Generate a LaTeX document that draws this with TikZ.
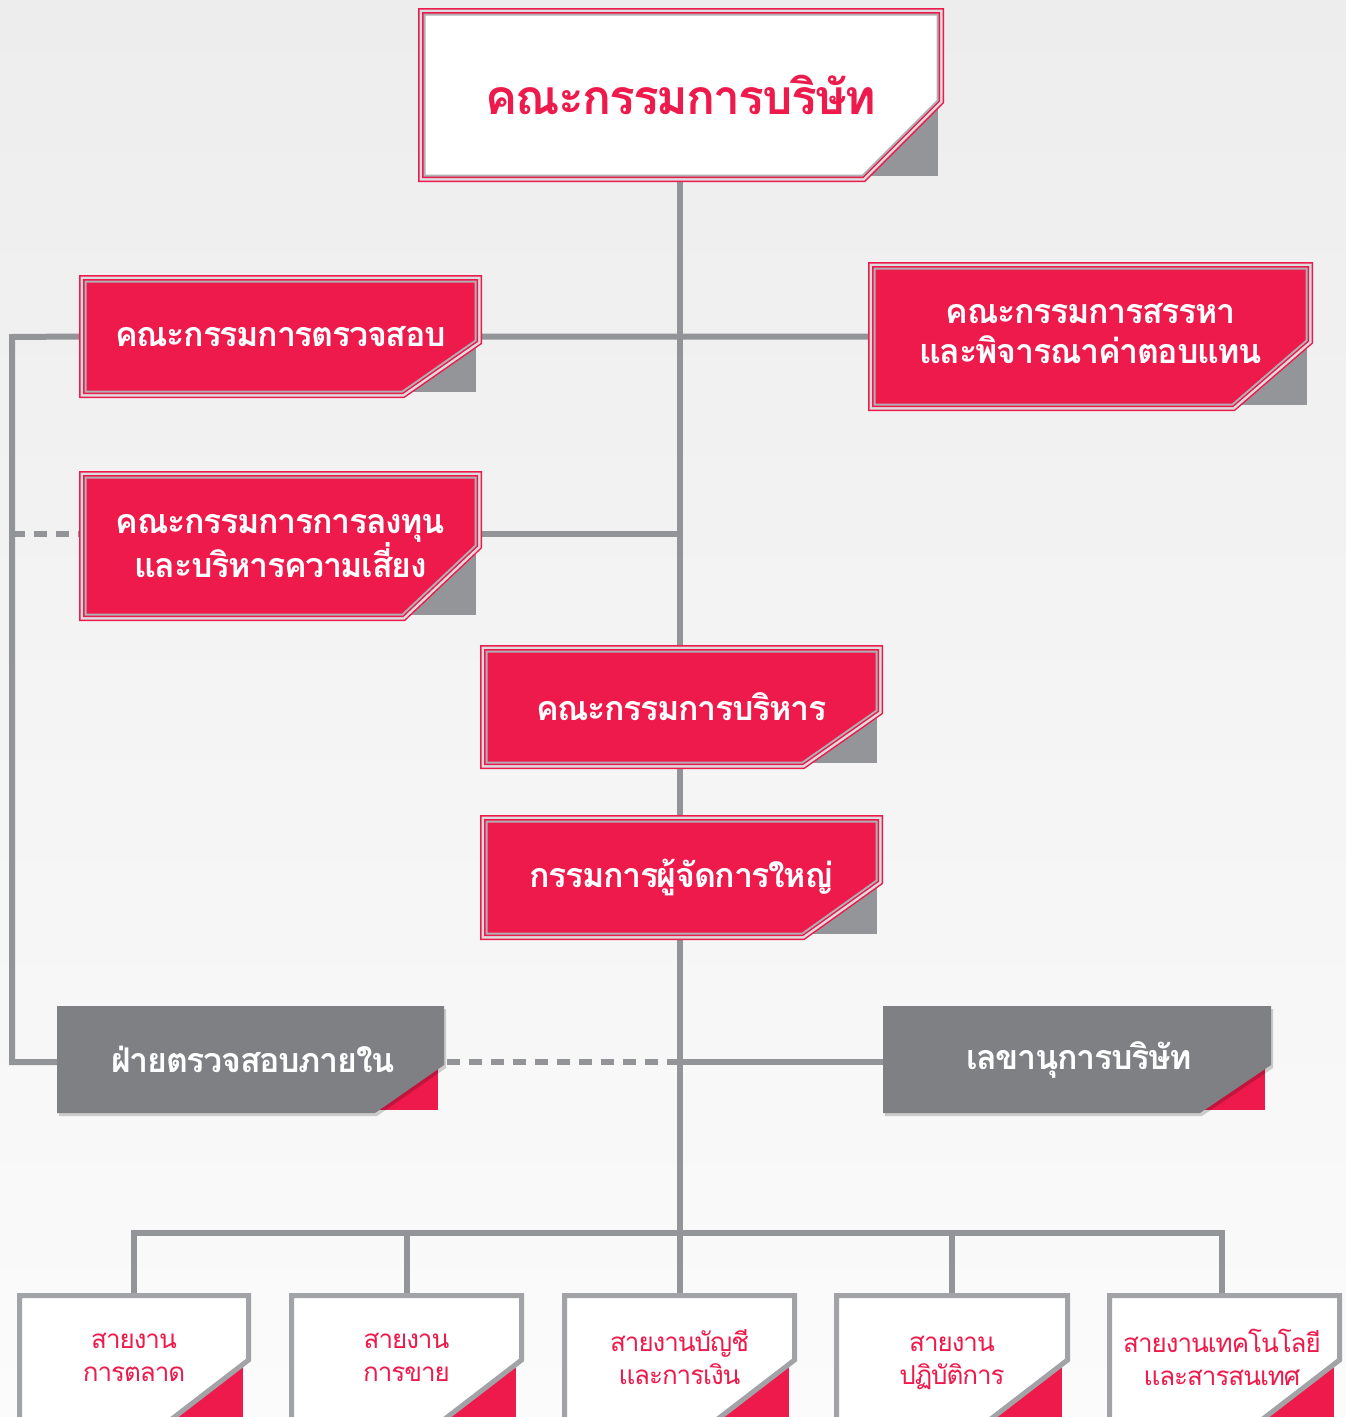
\documentclass[tikz,border=0pt]{standalone}
\usepackage{fontspec}
\newfontfamily\thaifont[Script=Thai,LetterSpace=-4]{Loma}
\usetikzlibrary{calc}
\pgfdeclarelayer{bg}
\pgfdeclarelayer{lines}
\pgfsetlayers{bg,lines,main}
\definecolor{tred}{HTML}{ED1A4B}
\definecolor{tlg}{HTML}{DCDCDE}
\definecolor{tmg}{HTML}{B0B0B4}
\definecolor{linegrey}{HTML}{939498}
\definecolor{boxgrey}{HTML}{7F8084}
\definecolor{blockgrey}{HTML}{949599}
\definecolor{bordergrey}{HTML}{A2A3A6}
\definecolor{bgtop}{HTML}{EDEDED}
\definecolor{bgbot}{HTML}{FBFBFB}
\tikzset{
  con/.style={draw=linegrey, line width=6},
  dashcon/.style={draw=linegrey, line width=6, dash pattern=on 13pt off 9pt},
  tri/.style={line join=miter,
    preaction={draw=tred, line width=15},
    preaction={draw=tlg, line width=12},
    preaction={draw=tred, line width=7},
    preaction={draw=tmg, line width=4}},
  bigtxt/.style={inner sep=0, align=center, text=white,
    font=\thaifont\bfseries\fontsize{34}{40}\selectfont},
  titletxt/.style={inner sep=0, align=center, text=tred,
    font=\thaifont\bfseries\fontsize{48}{58}\selectfont},
  bottxt/.style={inner sep=0, align=center, text=tred,
    font=\thaifont\fontsize{26}{33}\selectfont},
}
% x1 y1 x2 y2 cy cx fill
\newcommand\triframe[7]{%
  \fill[blockgrey] (#6,#5) rectangle (#3-6,#4-6);
  \path[tri, fill=#7] (#1+7.5,#2+7.5) -- (#3-7.5,#2+7.5) -- (#3-7.5,#5) -- (#6,#4-7.5) -- (#1+7.5,#4-7.5) -- cycle;
}
% x1 y1 x2 y2 cy cx
\newcommand\greyframe[6]{%
  \fill[tred] (#6,#5) rectangle (#3-6,#4-3);
  \fill[black, opacity=0.18] (#1+2,#2+3) -- (#3+2,#2+3) -- (#3+2,#5+3) -- (#6+2,#4+3) -- (#1+2,#4+3) -- cycle;
  \fill[boxgrey] (#1,#2) -- (#3,#2) -- (#3,#5) -- (#6,#4) -- (#1,#4) -- cycle;
}
% x1 x2
\newcommand\botframe[2]{%
  \fill[tred] (#2-110,1366) rectangle (#2-8,1430);
  \draw[bordergrey, line width=5, fill=white, line join=miter] (#1+2.5,1295.5) -- (#2-2.5,1295.5) -- (#2-2.5,1360) -- (#2-2.5-91,1430) -- (#1+2.5,1430) -- cycle;
}
\begin{document}
\begin{tikzpicture}[x=1pt,y=-1pt]
\useasboundingbox (0,0) rectangle (1346,1417);
\clip (0,0) rectangle (1346,1417);
\begin{pgfonlayer}{bg}
\shade[top color=bgtop, bottom color=bgbot] (0,0) rectangle (1346,1417);
\end{pgfonlayer}

\coordinate (L1) at (12,337);
\coordinate (L2) at (12,1062);
\coordinate (j2) at (680,534);
\coordinate (j3) at (680,1062);
\coordinate (bus) at (680,1233);

% frames
\triframe{418}{8}{944}{182}{100}{862}{white}
\triframe{79}{275}{482}{398}{340}{402}{tred}
\triframe{868}{262}{1313}{411}{340}{1232}{tred}
\triframe{79}{471}{482}{621}{545}{402}{tred}
\triframe{480}{645}{883}{769}{710}{802}{tred}
\triframe{480}{815}{883}{940}{880}{802}{tred}
\greyframe{57}{1006}{444}{1113}{1065}{375}
\greyframe{883}{1006}{1271}{1113}{1065}{1200}
\botframe{17}{251}
\botframe{289}{524}
\botframe{562}{797}
\botframe{834}{1070}
\botframe{1107}{1342}

% nodes
\node[titletxt, minimum width=526, minimum height=174] (board) at (681,95) {คณะกรรมการบริษัท};
\node[bigtxt, minimum width=403, minimum height=123] (audit) at (280.5,336.5) {คณะกรรมการตรวจสอบ};
\node[bigtxt, minimum width=445, minimum height=149] (nom) at (1090.5,334) {คณะกรรมการสรรหา\\และพิจารณาค่าตอบแทน};
\node[bigtxt, minimum width=403, minimum height=150] (inv) at (280.5,546) {คณะกรรมการการลงทุน\\และบริหารความเสี่ยง};
\node[bigtxt, minimum width=403, minimum height=124] (exec) at (681.5,707) {คณะกรรมการบริหาร};
\node[bigtxt, minimum width=403, minimum height=125] (ceo) at (681.5,877.5) {กรรมการผู้จัดการใหญ่};
\node[bigtxt, minimum width=387, minimum height=107] (ia) at (253,1059.5) {ฝ่ายตรวจสอบภายใน};
\node[bigtxt, minimum width=388, minimum height=107] (sec) at (1079,1059.5) {เลขานุการบริษัท};
\node[bottxt, minimum width=234, minimum height=128] (mkt) at (134,1357) {สายงาน\\การตลาด};
\node[bottxt, minimum width=235, minimum height=128] (sales) at (406.5,1357) {สายงาน\\การขาย};
\node[bottxt, minimum width=235, minimum height=128] (acc) at (679.5,1357) {สายงานบัญชี\\และการเงิน};
\node[bottxt, minimum width=236, minimum height=140] (ops) at (952,1363) {สายงาน\\ปฏิบัติการ};
\node[bottxt, minimum width=235, minimum height=128] (it) at (1222,1357) {สายงานเทคโนโลยี\\และสารสนเทศ};

% connectors, behind the boxes
\begin{pgfonlayer}{lines}
\draw[con] (board.south -| bus) -- (acc.north -| bus);
\draw[con] (nom.west |- audit.west) -- (audit.west) -- (L1) -- (L2) -- (ia.west |- L2);
\draw[dashcon] (L1 |- j2) -- (inv.west |- j2);
\draw[con] (inv.east |- j2) -- (j2);
\draw[dashcon] (ia.east |- j3) -- (j3);
\draw[con] (j3) -- (sec.west |- j3);
\draw[con] (mkt.north) -- (mkt.north |- bus) -- (it.north |- bus) -- (it.north);
\draw[con] (sales.north) -- (sales.north |- bus);
\draw[con] (ops.north) -- (ops.north |- bus);
\end{pgfonlayer}
\end{tikzpicture}
\end{document}
